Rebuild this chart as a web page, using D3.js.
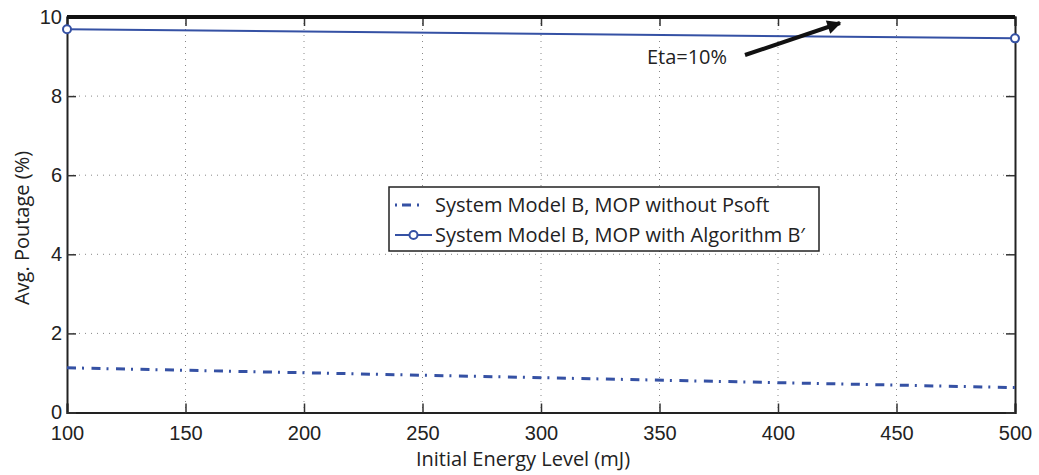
<!DOCTYPE html>
<html>
<head>
<meta charset="utf-8">
<script src="https://cdn.jsdelivr.net/npm/d3@7"></script>
<style>
  body { margin: 0; background: #fff; }
  svg { display: block; font-family: "Open Sans", "Noto Sans", sans-serif; }
  .tick text { fill: #222; }
</style>
</head>
<body>
<div id="chart"></div>
<script>
const energy      = [100, 500]
const poutNoPsoft = [1.13, 0.63]
const poutAlgB    = [9.69, 9.46]
const etaLevel    = [10, 10]
const xTicks      = [100, 150, 200, 250, 300, 350, 400, 450, 500]
const yTicks      = [0, 2, 4, 6, 8, 10]
const legendNames = ['System Model B, MOP without Psoft', 'System Model B, MOP with Algorithm B\u2032']

const W = 1039, H = 475,
      m = { top: 17, right: 24, bottom: 62.5, left: 67 },
      iw = W - m.left - m.right,
      ih = H - m.top - m.bottom,
      blue = '#3551a4'

const svg = d3.select('#chart').append('svg').attr('width', W).attr('height', H)
const g = svg.append('g').attr('transform', `translate(${m.left},${m.top})`)

const x = d3.scaleLinear().domain([100, 500]).range([0, iw])
const y = d3.scaleLinear().domain([0, 10]).range([ih, 0])

// grid
g.append('g').selectAll('line').data(xTicks.slice(1, -1)).enter().append('line')
  .attr('x1', d => x(d)).attr('x2', d => x(d)).attr('y1', 0).attr('y2', ih)
  .attr('stroke', '#888').attr('stroke-width', 1).attr('stroke-dasharray', '1,5')
g.append('g').selectAll('line').data(yTicks.slice(1, -1)).enter().append('line')
  .attr('y1', d => y(d)).attr('y2', d => y(d)).attr('x1', 0).attr('x2', iw)
  .attr('stroke', '#888').attr('stroke-width', 1).attr('stroke-dasharray', '1,5')

// axes (ticks inward, box)
const ax = (gen, tx) => g.append('g').attr('transform', tx).call(gen)
const xb = ax(d3.axisBottom(x).tickValues(xTicks).tickSize(-9).tickPadding(8).tickFormat(d3.format('d')), `translate(0,${ih})`)
const xt = ax(d3.axisTop(x).tickValues(xTicks).tickSize(-9).tickFormat(''), 'translate(0,0)')
const yl = ax(d3.axisLeft(y).tickValues(yTicks).tickSize(-9).tickPadding(5).tickFormat(d3.format('d')), 'translate(0,0)')
const yr = ax(d3.axisRight(y).tickValues(yTicks).tickSize(-9).tickFormat(''), `translate(${iw},0)`)
;[xb, xt, yl, yr].forEach(a => {
  a.select('.domain').attr('stroke', '#222').attr('stroke-width', 2)
  a.selectAll('.tick line').attr('stroke', '#333').attr('stroke-width', 1.5)
  a.selectAll('.tick text').style('font-size', '20px')
})
xb.selectAll('.tick text').attr('dy', '0.95em')

// eta = 10% line
const line = d3.line().x(d => x(d[0])).y(d => y(d[1]))
g.append('path').datum(d3.zip(energy, etaLevel)).attr('d', line)
  .attr('fill', 'none').attr('stroke', '#111').attr('stroke-width', 4)

// series
g.append('path').datum(d3.zip(energy, poutNoPsoft)).attr('d', line)
  .attr('fill', 'none').attr('stroke', blue).attr('stroke-width', 3)
  .attr('stroke-dasharray', '9,6,2,7.5')
g.append('path').datum(d3.zip(energy, poutAlgB)).attr('d', line)
  .attr('fill', 'none').attr('stroke', blue).attr('stroke-width', 2)
g.append('g').selectAll('circle').data(d3.zip(energy, poutAlgB)).enter().append('circle')
  .attr('cx', d => x(d[0])).attr('cy', d => y(d[1])).attr('r', 4)
  .attr('fill', '#fff').attr('stroke', blue).attr('stroke-width', 2)

// annotation arrow
svg.append('defs').append('marker').attr('id', 'ah')
  .attr('viewBox', '0 0 10 10').attr('refX', 9).attr('refY', 5)
  .attr('markerWidth', 4.5).attr('markerHeight', 3.5).attr('markerUnits', 'strokeWidth')
  .attr('orient', 'auto')
  .append('path').attr('d', 'M0,0 L10,5 L0,10 Z').attr('fill', '#111')
svg.append('line').attr('x1', 745).attr('y1', 55).attr('x2', 840).attr('y2', 23)
  .attr('stroke', '#111').attr('stroke-width', 4).attr('marker-end', 'url(#ah)')
svg.append('text').attr('x', 687).attr('y', 64).attr('text-anchor', 'middle')
  .style('font-size', '20px').attr('fill', '#222').text('Eta=10%')

// legend
const lg = svg.append('g').attr('transform', 'translate(389,187)')
lg.append('rect').attr('width', 430).attr('height', 64)
  .attr('fill', '#fff').attr('stroke', '#222').attr('stroke-width', 1.5)
const rows = lg.selectAll('g.row').data(legendNames).enter().append('g')
  .attr('class', 'row').attr('transform', (d, i) => `translate(0,${18 + i * 30})`)
rows.append('line').attr('x1', 6).attr('x2', 43).attr('y1', 0).attr('y2', 0)
  .attr('stroke', blue).attr('stroke-width', (d, i) => i ? 2 : 3)
  .attr('stroke-dasharray', (d, i) => i ? null : '2,5,9,6,2,20')
rows.filter((d, i) => i === 1).append('circle').attr('cx', 24.5).attr('cy', 0).attr('r', 4)
  .attr('fill', '#fff').attr('stroke', blue).attr('stroke-width', 2)
rows.append('text').attr('x', 46).attr('y', 0).attr('dy', '0.35em')
  .style('font-size', '20px').attr('fill', '#222').text(d => d)

// axis titles
svg.append('text').attr('x', m.left + iw / 2 - 18).attr('y', 466).attr('text-anchor', 'middle')
  .style('font-size', '20px').attr('fill', '#222').text('Initial Energy Level (mJ)')
svg.append('text').attr('transform', 'translate(29,228) rotate(-90)').attr('text-anchor', 'middle')
  .style('font-size', '20px').attr('fill', '#222').text('Avg. Poutage (%)')
</script>
</body>
</html>
